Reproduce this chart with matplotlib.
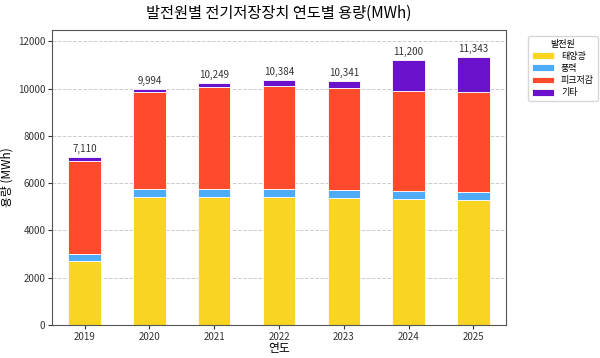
import matplotlib
matplotlib.use("Agg")
import matplotlib.pyplot as plt
import numpy as np

plt.rcParams['font.family'] = ['Noto Sans CJK KR', 'DejaVu Sans']

years = ['2019', '2020', '2021', '2022', '2023', '2024', '2025']
solar = [2700, 5400, 5400, 5400, 5370, 5320, 5280]
wind = [300, 340, 340, 340, 335, 340, 350]
peak = [3950, 4100, 4310, 4390, 4320, 4240, 4230]
other = [160, 154, 199, 254, 316, 1300, 1483]

names = ['태양광', '풍력', '피크저감', '기타']
colors = ['#F9D423', '#4DABF7', '#FF4B2B', '#6A11CB']

fig = plt.figure(figsize=(6, 3.58), dpi=100)
ax = fig.add_axes([0.087, 0.092, 0.756, 0.824])

x = np.arange(len(years))
bottom = np.zeros(len(years))
for vals, name, c in zip([solar, wind, peak, other], names, colors):
    ax.bar(x, vals, 0.5, bottom=bottom, color=c, label=name,
           edgecolor='white', linewidth=0.6)
    bottom += np.array(vals)

for xi, tot in zip(x, bottom):
    ax.text(xi, tot + 120, f"{int(tot):,}", ha='center', va='bottom', fontsize=7, color='#333333')

ax.set_ylim(0, bottom.max() * 1.1)
ax.set_xlim(-0.5, 6.5)
ax.set_xticks(x)
ax.set_xticklabels(years)
ax.tick_params(labelsize=7, pad=2, length=3, colors='#333333')
ax.yaxis.grid(True, linestyle='--', color='#cccccc', linewidth=0.7)
ax.set_axisbelow(True)
ax.set_xlabel('연도', fontsize=8.5, labelpad=0)
ax.set_ylabel('용량 (MWh)', fontsize=8.5, labelpad=3)
ax.set_title('발전원별 전기저장장치 연도별 용량(MWh)', fontsize=11, pad=9)
for s in ax.spines.values():
    s.set_color('#555555')

ax.legend(title='발전원', loc='upper left', bbox_to_anchor=(1.04, 0.995),
          fontsize=6.5, title_fontsize=6.5, handlelength=2.4, handleheight=0.8,
          labelspacing=0.35)

fig.savefig('out.png', dpi=100)
